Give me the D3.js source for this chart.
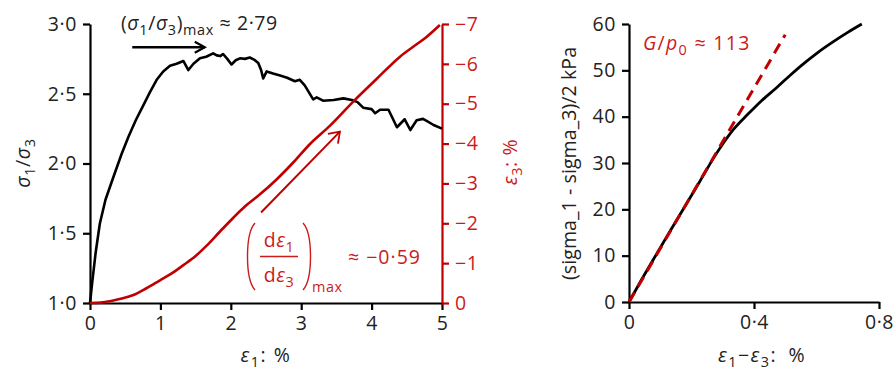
<!DOCTYPE html>
<html><head><meta charset="utf-8">
<script src="https://cdn.jsdelivr.net/npm/d3@7"></script>
<style>
html,body{margin:0;padding:0;background:#fff;}
svg{display:block;font-family:"Open Sans",sans-serif;}
</style></head>
<body>
<svg id="c" width="896" height="369"></svg>
<script>
// ---- data ----
const ratioStrain = [0,0.03,0.08,0.14,0.22,0.33,0.45,0.545,0.65,0.75,0.85,0.947,1.04,1.136,1.23,1.326,1.397,1.47,1.562,1.65,1.75,1.80,1.85,1.89,1.95,2.01,2.07,2.13,2.2,2.27,2.33,2.39,2.43,2.46,2.51,2.6,2.70,2.8,2.91,2.98,3.05,3.17,3.22,3.31,3.46,3.60,3.72,3.8,3.88,4.0,4.05,4.12,4.24,4.36,4.47,4.55,4.64,4.73,4.8,4.88,5.0];
const stressRatio = [1.0,1.14,1.36,1.57,1.74,1.90,2.07,2.19,2.31,2.41,2.51,2.6,2.66,2.70,2.715,2.735,2.67,2.715,2.754,2.765,2.79,2.775,2.77,2.785,2.75,2.71,2.74,2.754,2.75,2.76,2.745,2.72,2.67,2.61,2.66,2.645,2.63,2.615,2.59,2.60,2.56,2.46,2.474,2.45,2.455,2.467,2.455,2.44,2.40,2.39,2.36,2.385,2.385,2.26,2.317,2.24,2.31,2.32,2.30,2.276,2.25];
const volStrain1 = [0,0.15,0.3,0.45,0.616,0.8,0.994,1.15,1.326,1.5,1.657,1.85,2.036,2.2,2.41,2.65,2.9,3.125,3.41,3.76,4.07,4.40,4.64,4.78,4.97];
const strain3 = [0,-0.01,-0.05,-0.11,-0.2,-0.37,-0.57,-0.73,-0.95,-1.18,-1.44,-1.8,-2.14,-2.42,-2.72,-3.1,-3.55,-3.99,-4.45,-5.09,-5.62,-6.175,-6.49,-6.675,-6.975];
const shearStrain = [0,0.04,0.085,0.135,0.185,0.235,0.27,0.30,0.335,0.38,0.425,0.473,0.515,0.558,0.605,0.654,0.70,0.745];
const shearStress = [0,4.8,10,15.7,21.3,27.0,31.0,34.1,37.3,40.5,43.5,46.3,48.9,51.4,53.9,56.2,58.2,60];
const tangentStrain = [0,0.5];
const tangentStress = [0,57.7];
const ratioTicks = [1.0,1.5,2.0,2.5,3.0];
const strain1Ticks = [0,1,2,3,4,5];
const strain3Ticks = [0,-1,-2,-3,-4,-5,-6,-7];
const gammaTicks = [0,0.4,0.8];
const tauTicks = [0,10,20,30,40,50,60];
const peakRatioLabel = "2·79";
const dilationLabel = "−0·59";
const stiffnessLabel = "113";

const RED = "#c00000", RED_T = "#cc1b1b", FS = 19.5, LS = 0.6;
const svg = d3.select("#c");
const dot = s => s.replace(".", "·");

// ---- scales ----
const x1 = d3.scaleLinear([0,5],[90,442]);
const yL = d3.scaleLinear([1,3],[303,24]);
const yR = d3.scaleLinear([0,-7],[303,24]);
const x2 = d3.scaleLinear([0,0.8],[629,879]);
const y2 = d3.scaleLinear([0,60],[302,24]);

function styleAxis(g, color){
  g.selectAll("path.domain").attr("stroke", color).attr("stroke-width", 2.2);
  g.selectAll(".tick line").attr("stroke", color).attr("stroke-width", 2.2);
  g.selectAll(".tick text").attr("fill", color === "#000" ? "#222" : RED_T)
    .attr("font-size", FS).attr("letter-spacing", LS).attr("font-family", '"Open Sans",sans-serif');
}
// rich text helper
function rich(sel, segs, fs, ls){
  sel.attr("letter-spacing", ls === undefined ? LS : ls);
  let off = 0;
  segs.forEach(s => {
    const sub = !!s.sub;
    const target = sub ? fs*0.28 : 0;
    const t = sel.append("tspan").text(s.t)
      .attr("font-size", sub ? fs*0.74 : fs)
      .attr("font-style", s.it ? "italic" : "normal");
    if (target !== off){ t.attr("dy", target - off); off = target; }
  });
}

// ---- left chart ----
svg.append("g").attr("transform","translate(0,303)")
  .call(d3.axisBottom(x1).tickValues(strain1Ticks).tickSize(7).tickSizeOuter(0).tickPadding(6).tickFormat(d3.format("d")))
  .call(g => styleAxis(g, "#000"));
svg.append("g").attr("transform","translate(90,0)")
  .call(d3.axisLeft(yL).tickValues(ratioTicks).tickSize(7).tickSizeOuter(0).tickPadding(6).tickFormat(d => dot(d3.format(".1f")(d))))
  .call(g => styleAxis(g, "#000"));
svg.append("g").attr("transform","translate(442,0)")
  .call(d3.axisRight(yR).tickValues(strain3Ticks).tickSize(7).tickSizeOuter(0).tickPadding(6).tickFormat(d3.format("d")))
  .call(g => styleAxis(g, RED));

svg.append("path").datum(ratioStrain.map((e,i)=>[e, stressRatio[i]]))
  .attr("fill","none").attr("stroke","#000").attr("stroke-width",2.6).attr("stroke-linejoin","round")
  .attr("d", d3.line().x(d=>x1(d[0])).y(d=>yL(d[1])));
svg.append("path").datum(volStrain1.map((e,i)=>[e, strain3[i]]))
  .attr("fill","none").attr("stroke",RED).attr("stroke-width",2.6).attr("stroke-linejoin","round")
  .attr("d", d3.line().curve(d3.curveMonotoneX).x(d=>x1(d[0])).y(d=>yR(d[1])));

// markers
const defs = svg.append("defs");
function marker(id, color, len, half, sw){
  defs.append("marker").attr("id", id).attr("markerUnits","userSpaceOnUse")
    .attr("viewBox", `${-len-2} ${-half-2} ${len+4} ${2*half+4}`)
    .attr("markerWidth", len+4).attr("markerHeight", 2*half+4)
    .attr("refX", 0).attr("refY", 0).attr("orient","auto")
    .append("path").attr("d", `M${-len},${-half}L0,0L${-len},${half}`)
    .attr("fill","none").attr("stroke",color).attr("stroke-width",sw);
}
marker("ab","#000",10,5.5,2.2);
marker("ar",RED,10,7,1.8);

svg.append("line").attr("x1",x1(0.6)).attr("x2",x1(1.63)).attr("y1",yL(2.833)).attr("y2",yL(2.833))
  .attr("stroke","#000").attr("stroke-width",2.6).attr("marker-end","url(#ab)");
svg.append("line").attr("x1",x1(2.43)).attr("y1",yR(-2.27)).attr("x2",x1(3.55)).attr("y2",yR(-4.3))
  .attr("stroke",RED).attr("stroke-width",2).attr("marker-end","url(#ar)");

// peak ratio annotation
rich(svg.append("text").attr("x",121).attr("y",30).attr("fill","#222"),
  [{t:"("},{t:"σ",it:1},{t:"1",sub:1},{t:"/"},{t:"σ",it:1},{t:"3",sub:1},{t:")"},{t:"max",sub:1},{t:" ≈ "+peakRatioLabel}], FS);

// dilatancy annotation
const ann = svg.append("g").attr("fill", RED_T);
ann.append("path").attr("d","M255,223 C245,234 245,279 255,290").attr("fill","none").attr("stroke",RED_T).attr("stroke-width",1.4);
ann.append("path").attr("d","M303,223 C313,234 313,279 303,290").attr("fill","none").attr("stroke",RED_T).attr("stroke-width",1.4);
ann.append("line").attr("x1",260).attr("x2",298).attr("y1",256.5).attr("y2",256.5).attr("stroke",RED_T).attr("stroke-width",1.4);
rich(ann.append("text").attr("x",279).attr("y",247).attr("text-anchor","middle"),
  [{t:"d"},{t:"ε",it:1},{t:"1",sub:1}], FS);
rich(ann.append("text").attr("x",279).attr("y",282).attr("text-anchor","middle"),
  [{t:"d"},{t:"ε",it:1},{t:"3",sub:1}], FS);
ann.append("text").attr("x",312).attr("y",292).attr("font-size",FS*0.74).attr("letter-spacing",LS).text("max");
ann.append("text").attr("x",348).attr("y",264).attr("font-size",FS).attr("letter-spacing",1).text("≈ "+dilationLabel);

// axis labels left
rich(svg.append("text").attr("transform","translate(30,163) rotate(-90)").attr("text-anchor","middle").attr("fill","#222"),
  [{t:"σ",it:1},{t:"1",sub:1},{t:"/"},{t:"σ",it:1},{t:"3",sub:1}], FS);
rich(svg.append("text").attr("x",266).attr("y",362).attr("text-anchor","middle").attr("fill","#222"),
  [{t:"ε",it:1},{t:"1",sub:1},{t:": %"}], FS, 1.5);
rich(svg.append("text").attr("transform","translate(517,162) rotate(-90)").attr("text-anchor","middle").attr("fill",RED_T),
  [{t:"ε",it:1},{t:"3",sub:1},{t:": %"}], FS);

// ---- right chart ----
svg.append("g").attr("transform","translate(0,302)")
  .call(d3.axisBottom(x2).tickValues(gammaTicks).tickSize(7).tickSizeOuter(0).tickPadding(6).tickFormat(d => d===0 ? "0" : dot(d3.format(".1f")(d))))
  .call(g => styleAxis(g, "#000"));
svg.append("g").attr("transform","translate(629,0)")
  .call(d3.axisLeft(y2).tickValues(tauTicks).tickSize(7).tickSizeOuter(0).tickPadding(6).tickFormat(d3.format("d")))
  .call(g => styleAxis(g, "#000"));

svg.append("path").datum(shearStrain.map((e,i)=>[e, shearStress[i]]))
  .attr("fill","none").attr("stroke","#000").attr("stroke-width",2.8).attr("stroke-linejoin","round")
  .attr("d", d3.line().curve(d3.curveMonotoneX).x(d=>x2(d[0])).y(d=>y2(d[1])));
svg.append("path").datum(tangentStrain.map((e,i)=>[e, tangentStress[i]]))
  .attr("fill","none").attr("stroke",RED).attr("stroke-width",3).attr("stroke-dasharray","11,7")
  .attr("d", d3.line().x(d=>x2(d[0])).y(d=>y2(d[1])));

rich(svg.append("text").attr("x",643).attr("y",50).attr("fill",RED_T),
  [{t:"G",it:1},{t:"/"},{t:"p",it:1},{t:"0",sub:1},{t:" ≈ "+stiffnessLabel}], FS, 1.3);

svg.append("text").attr("transform","translate(576,163.5) rotate(-90)").attr("text-anchor","middle")
  .attr("fill","#222").attr("font-size",FS).attr("textLength",233).attr("lengthAdjust","spacing")
  .text("(sigma_1 - sigma_3)/2 kPa");
rich(svg.append("text").attr("x",762).attr("y",362).attr("text-anchor","middle").attr("fill","#222"),
  [{t:"ε",it:1},{t:"1",sub:1},{t:"−"},{t:"ε",it:1},{t:"3",sub:1},{t:":\u2002%"}], FS, 1.5);
</script>
</body></html>
